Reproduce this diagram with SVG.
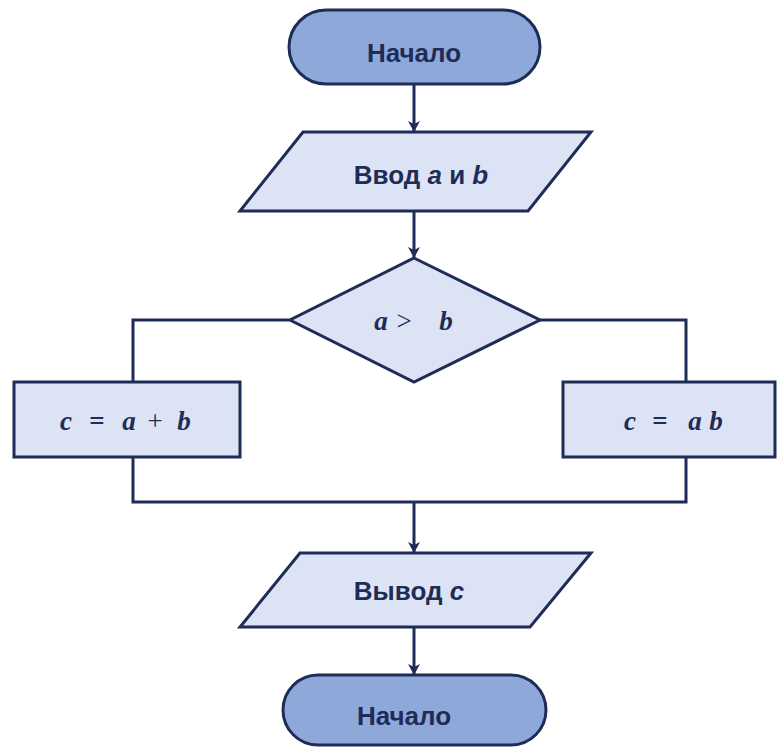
<svg xmlns="http://www.w3.org/2000/svg" width="777" height="751" viewBox="0 0 777 751">
<defs>
<style>
.term{fill:#8EA8DA;stroke:#1E2C57;stroke-width:3}
.box{fill:#DCE3F4;stroke:#1E2C57;stroke-width:3}
.ln{fill:none;stroke:#1E2C57;stroke-width:3}
.t{font-family:"Liberation Sans",Arial,sans-serif;font-weight:bold;font-size:26px;fill:#1E2C57;text-anchor:middle}
.m{font-family:"Liberation Serif","Times New Roman",serif;font-weight:bold;font-size:27px;fill:#1E2C57;text-anchor:middle}
.i{font-style:italic}
</style>
<marker id="arr" markerWidth="14" markerHeight="14" refX="12" refY="7" orient="auto" markerUnits="userSpaceOnUse" viewBox="0 0 14 14">
<path d="M2,1 L13,7 L2,13 L5,7 Z" fill="#1E2C57"/>
</marker>
</defs>
<rect width="777" height="751" fill="#ffffff"/>
<g id="connectors">
<line class="ln" x1="414" y1="84" x2="414" y2="131" marker-end="url(#arr)"/>
<line class="ln" x1="414" y1="211" x2="414" y2="257" marker-end="url(#arr)"/>
<polyline class="ln" points="290,320 133,320 133,382"/>
<polyline class="ln" points="540,320 686,320 686,382"/>
<polyline class="ln" points="133,457 133,502 686,502 686,457"/>
<line class="ln" x1="414" y1="502" x2="414" y2="552" marker-end="url(#arr)"/>
<line class="ln" x1="414" y1="627" x2="414" y2="674" marker-end="url(#arr)"/>
</g>
<g id="start">
<rect class="term" x="289" y="10" width="251" height="74" rx="37"/>
<text class="t" x="414" y="62">Начало</text>
</g>
<g id="input">
<polygon class="box" points="303,132 591,132 528,211 240,211"/>
<text class="t" x="421" y="184">Ввод <tspan class="i">a</tspan> и <tspan class="i">b</tspan></text>
</g>
<g id="decision">
<polygon class="box" points="414,258 540,320 414,382 290,320"/>
<text class="m" y="330"><tspan class="i" x="381">a</tspan><tspan x="404" font-weight="normal">&gt;</tspan><tspan class="i" x="446">b</tspan></text>
</g>
<g id="sum">
<rect class="box" x="14" y="382" width="226" height="75"/>
<text class="m" y="430"><tspan class="i" x="66">c</tspan><tspan x="97">=</tspan><tspan class="i" x="129">a</tspan><tspan x="155" font-weight="normal">+</tspan><tspan class="i" x="184">b</tspan></text>
</g>
<g id="prod">
<rect class="box" x="563" y="382" width="212" height="75"/>
<text class="m" y="430"><tspan class="i" x="630">c</tspan><tspan x="660">=</tspan><tspan class="i" x="695">a</tspan><tspan class="i" x="716">b</tspan></text>
</g>
<g id="output">
<polygon class="box" points="300,553 591,553 530,627 240,627"/>
<text class="t" x="409" y="600">Вывод <tspan class="i">c</tspan></text>
</g>
<g id="end">
<rect class="term" x="283" y="675" width="263" height="70" rx="35"/>
<text class="t" x="404" y="725">Начало</text>
</g>
</svg>
